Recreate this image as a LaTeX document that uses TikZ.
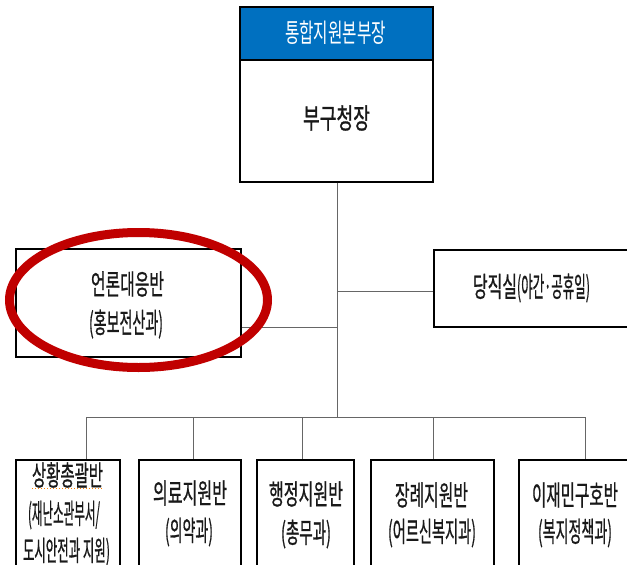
\documentclass[tikz,border=0pt]{standalone}
\usepackage{fontspec}
\usepackage{graphicx}
\newfontfamily\kr[FakeBold=1]{Noto Sans CJK KR}
\newfontfamily\krw{Noto Sans CJK KR}
\newcommand{\fw}[2]{\resizebox{#1pt}{\height}{#2}}
\definecolor{hqblue}{RGB}{0,112,192}
\definecolor{ovalred}{RGB}{192,0,0}
\definecolor{txtgray}{RGB}{25,25,25}
\begin{document}
\begin{tikzpicture}[x=1pt,y=-1pt,
  box/.style={draw=black,line width=1.6pt,inner sep=0pt,anchor=north west},
  conn/.style={draw=black!60,line width=1pt},
  txt/.style={font=\kr\fontsize{28}{32}\selectfont,inner sep=0pt,text=txtgray},
  htxt/.style={font=\krw\fontsize{26}{30}\selectfont,inner sep=0pt,text=white}]
\useasboundingbox (0,0) rectangle (627,565);
% top box
\node[box,minimum width=193pt,minimum height=175pt] (top) at (239,6) {};
\node[fill=hqblue,draw=black,line width=1.6pt,inner sep=0pt,anchor=north west,minimum width=193pt,minimum height=53pt] (hdr) at (239,6) {};
\node[htxt] (hdrt) at (335.5,33) {\fw{101}{통합지원본부장}};
\node[txt] (vice) at (336.5,118) {\fw{67}{부구청장}};
% left box
\node[box,minimum width=225pt,minimum height=108pt] (left) at (15,248) {};
\node[txt] (leftt) at (127.5,284) {\fw{73}{언론대응반}};
\node[txt] (lefts) at (126,324) {\fw{74}{(홍보전산과)}};
% right box
\node[box,minimum width=200pt,minimum height=77pt] (right) at (433,249) {};
\node[txt] (rightt) at (531.5,288) {\fw{44}{당직실}\fw{73}{(야간·공휴일)}};
% bottom boxes
\node[box,minimum width=104pt,minimum height=106pt] (b1) at (15,459) {};
\node[box,minimum width=102pt,minimum height=106pt] (b2) at (138,459) {};
\node[box,minimum width=97pt,minimum height=106pt] (b3) at (256,459) {};
\node[box,minimum width=123pt,minimum height=106pt] (b4) at (370,459) {};
\node[box,minimum width=115pt,minimum height=106pt] (b5) at (518,459) {};
\node[txt] (b1a) at (67.5,475) {\fw{71}{상황총괄반}};
\draw[orange,line width=1pt,dotted] (32,488) -- (103,488);
\node[txt] (b1b) at (64,515) {\fw{72}{(재난소관부서/}};
\node[txt] (b1c) at (66.5,552) {\fw{87}{도시안전과 지원)}};
\node[txt] (b2a) at (190,493) {\fw{74}{의료지원반}};
\node[txt] (b2b) at (189,532) {\fw{48}{(의약과)}};
\node[txt] (b3a) at (306,494) {\fw{74}{행정지원반}};
\node[txt] (b3b) at (306,534) {\fw{50}{(총무과)}};
\node[txt] (b4a) at (431.5,495) {\fw{73}{장례지원반}};
\node[txt] (b4b) at (432,533) {\fw{88}{(어르신복지과)}};
\node[txt] (b5a) at (575,495) {\fw{86}{이재민구호반}};
\node[txt] (b5b) at (575,533) {\fw{74}{(복지정책과)}};
% connectors
\coordinate (trunk) at (337,417);
\coordinate (lj) at (337,327);
\coordinate (rj) at (337,291);
\coordinate (d1) at (86,417);
\coordinate (d2) at (193,417);
\coordinate (d3) at (302,417);
\coordinate (d4) at (433,417);
\coordinate (d5) at (585,417);
\draw[conn] (top.south -| trunk) -- (trunk);
\draw[conn] (lj -| left.east) -- (lj);
\draw[conn] (rj) -- (rj -| right.west);
\draw[conn] (d1) -- (d5);
\draw[conn] (d1) -- (d1 |- b1.north);
\draw[conn] (d2) -- (d2 |- b2.north);
\draw[conn] (d3) -- (d3 |- b3.north);
\draw[conn] (d4) -- (d4 |- b4.north);
\draw[conn] (d5) -- (d5 |- b5.north);
% red oval
\draw[ovalred,line width=9pt] (138.5,300) ellipse [x radius=129,y radius=67.5];
\end{tikzpicture}
\end{document}
